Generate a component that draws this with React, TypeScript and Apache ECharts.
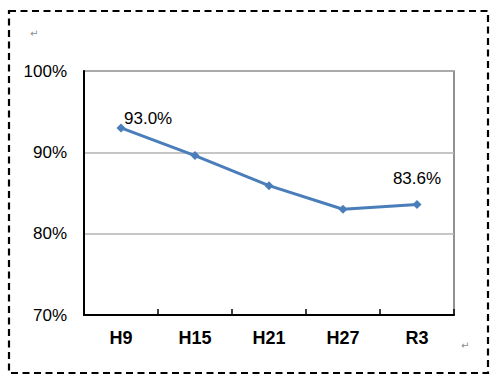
import React, { useEffect, useRef } from "react";
import * as echarts from "echarts";

const categories = ["H9", "H15", "H21", "H27", "R3"];
const values = [93.0, 89.6, 85.9, 83.0, 83.6];
const labelledIndexes = [0, 4];
const yMin = 70;
const yMax = 100;
const yStep = 10;

const FONT = "'Liberation Sans', Arial, sans-serif";

export default function App() {
  const ref = useRef<HTMLDivElement>(null);
  useEffect(() => {
    if (!ref.current) return;
    const chart = echarts.init(ref.current, undefined, { renderer: "svg" });
    chart.setOption({
      animation: false,
      backgroundColor: "#ffffff",
      grid: {
        left: 84,
        top: 71,
        right: 44,
        bottom: 69,
        show: true,
        borderColor: "#6e6e6e",
        borderWidth: 1.5,
        backgroundColor: "transparent",
      },
      xAxis: {
        type: "category",
        data: categories,
        boundaryGap: true,
        axisLine: { show: true, lineStyle: { color: "#000000", width: 2 } },
        axisTick: { show: true, inside: true, length: 6, lineStyle: { color: "#000000", width: 1.5 } },
        axisLabel: {
          color: "#000000",
          fontFamily: FONT,
          fontWeight: "bold",
          fontSize: 18,
          margin: 14,
        },
        splitLine: { show: false },
      },
      yAxis: {
        type: "value",
        min: yMin,
        max: yMax,
        interval: yStep,
        axisLine: { show: true, lineStyle: { color: "#000000", width: 2 } },
        axisTick: { show: false },
        axisLabel: {
          color: "#000000",
          fontFamily: FONT,
          fontSize: 17,
          margin: 17,
          formatter: "{value}%",
        },
        splitLine: { show: true, lineStyle: { color: "#b3b3b3", width: 1.5 } },
      },
      series: [
        {
          type: "line",
          data: values.map((v, i) => ({
            value: v,
            label: labelledIndexes.includes(i)
              ? i === 0
                ? { show: true, position: "top", align: "left", distance: 0, offset: [3, 4] }
                : { show: true, position: "top", distance: 13 }
              : { show: false },
          })),
          symbol: "diamond",
          symbolSize: 9,
          itemStyle: { color: "#4a7ebb" },
          lineStyle: { color: "#4a7ebb", width: 3 },
          label: {
            color: "#000000",
            fontFamily: FONT,
            fontSize: 17,
            formatter: (p: any) => `${Number(p.value).toFixed(1)}%`,
          },
        },
      ],
      graphic: [
        {
          type: "rect",
          shape: { x: 9, y: 11, width: 479, height: 362 },
          style: { fill: "none", stroke: "#000000", lineWidth: 2.2, lineDash: [7, 4.5] },
          silent: true,
        },
        {
          type: "text",
          x: 30,
          y: 28,
          style: { text: "↵", fontSize: 10, fill: "#8c8c8c", fontFamily: "DejaVu Sans" },
        },
        {
          type: "text",
          x: 461,
          y: 340,
          style: { text: "↵", fontSize: 10, fill: "#8c8c8c", fontFamily: "DejaVu Sans" },
        },
      ],
    });
    return () => chart.dispose();
  }, []);
  return (
    <div
      ref={ref}
      style={{ position: "fixed", left: 0, top: 0, width: 498, height: 384 }}
    />
  );
}
